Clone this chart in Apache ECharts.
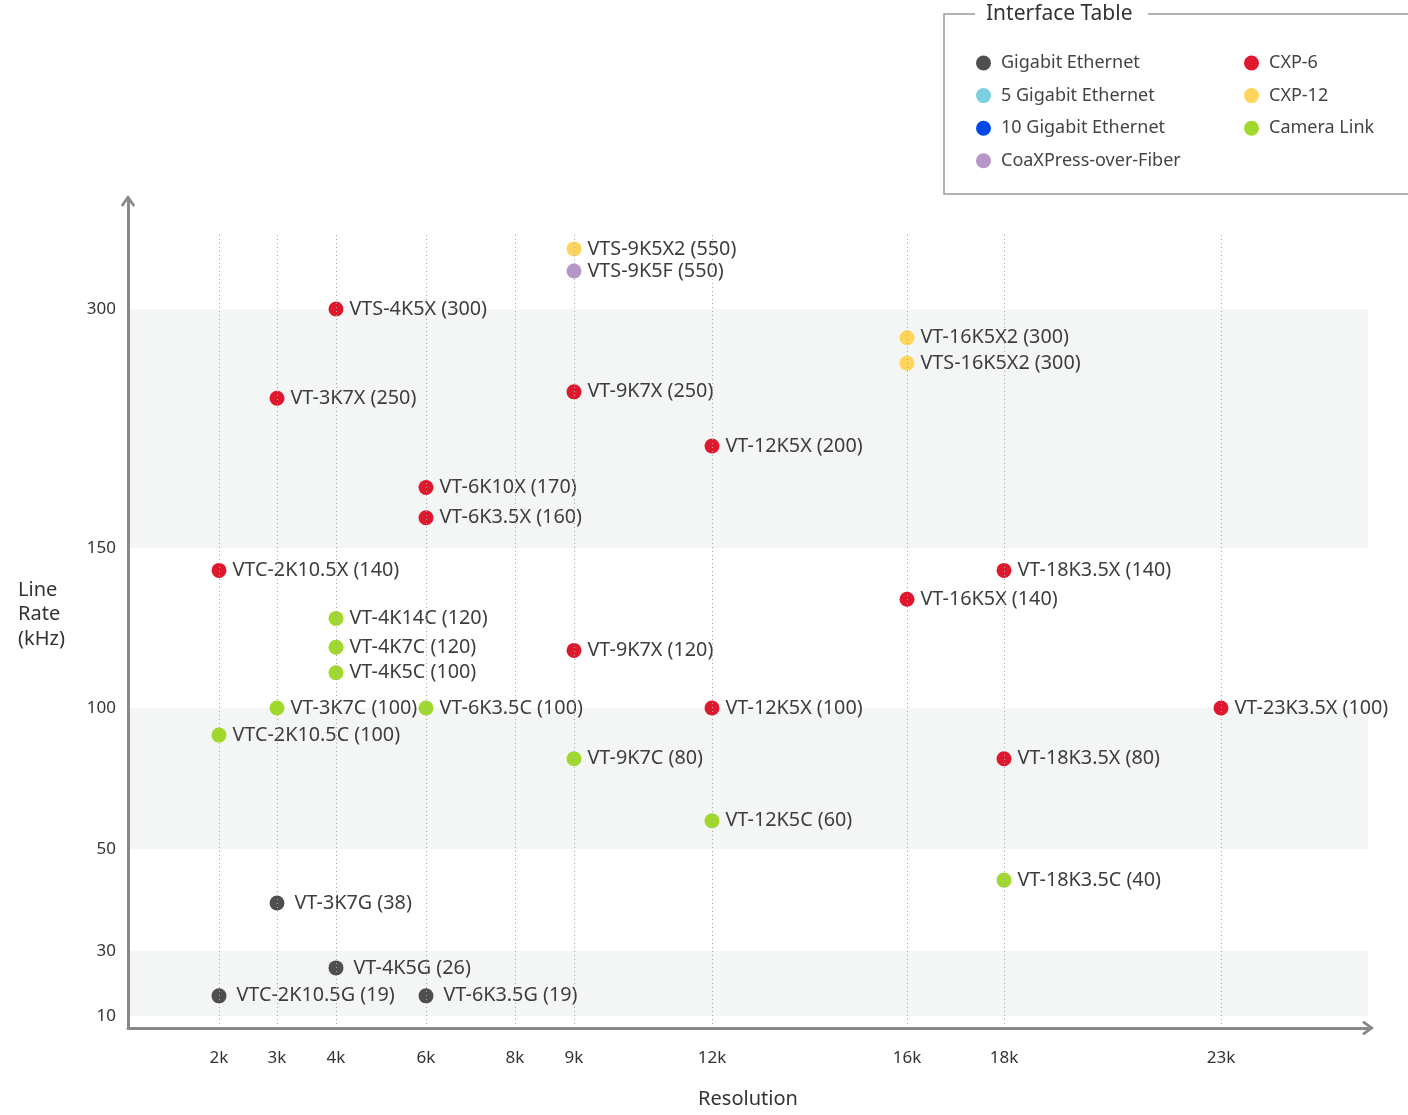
<!DOCTYPE html>
<html>
<head>
<meta charset="utf-8">
<title>Interface Table</title>
<script src="https://cdn.jsdelivr.net/npm/echarts@6.0.0/dist/echarts.min.js"></script>
<style>
  html, body { margin: 0; padding: 0; background: #fff; }
  #chart { width: 1408px; height: 1115px; }
</style>
</head>
<body>
<div id="chart"></div>
<script>
// tick values and their labels
const xTicks = [2, 3, 4, 6, 8, 9, 12, 16, 18, 23];
const xTickLabels = ['2k', '3k', '4k', '6k', '8k', '9k', '12k', '16k', '18k', '23k'];
const yTicks = [10, 30, 50, 100, 150, 300];
const yTickLabels = ['10', '30', '50', '100', '150', '300'];

// the axes are hand spaced, so each stop gets its own spot along the axis (axis units)
const xStops = [2, 3, 4, 6, 8, 9, 12, 16, 18, 23];
const xUnits = [91, 149, 208, 298, 387, 446, 584, 779, 876, 1093];
const yStops = [0, 10, 30, 50, 100, 150, 300, 600];
const yUnits = [0, 12, 77, 179, 320, 480, 719, 792];

// shaded bands of line rate
const bands = [[10, 30], [50, 100], [150, 300]];

// [model, resolution (k), line rate in label (kHz), line rate where it is drawn]
const gigE = [
  ['VT-3K7G', 3, 38, 39.4],
  ['VT-4K5G', 4, 26, 24.8],
  ['VTC-2K10.5G', 2, 19, 16.2],
  ['VT-6K3.5G', 6, 19, 16.2]
];
const gigE5 = [];
const gigE10 = [];
const coFiber = [
  ['VTS-9K5F', 9, 550, 456]
];
const cxp6 = [
  ['VTS-4K5X', 4, 300, 300],
  ['VT-3K7X', 3, 250, 244],
  ['VT-9K7X', 9, 250, 248],
  ['VT-12K5X', 12, 200, 214],
  ['VT-6K10X', 6, 170, 188],
  ['VT-6K3.5X', 6, 160, 169],
  ['VTC-2K10.5X', 2, 140, 143],
  ['VT-18K3.5X', 18, 140, 143],
  ['VT-16K5X', 16, 140, 134],
  ['VT-9K7X', 9, 120, 118],
  ['VT-12K5X', 12, 100, 100],
  ['VT-23K3.5X', 23, 100, 100],
  ['VT-18K3.5X', 18, 80, 82]
];
const cxp12 = [
  ['VTS-9K5X2', 9, 550, 547],
  ['VT-16K5X2', 16, 300, 282],
  ['VTS-16K5X2', 16, 300, 266]
];
const cameraLink = [
  ['VT-4K14C', 4, 120, 128],
  ['VT-4K7C', 4, 120, 119],
  ['VT-4K5C', 4, 100, 111],
  ['VT-3K7C', 3, 100, 100],
  ['VT-6K3.5C', 6, 100, 100],
  ['VTC-2K10.5C', 2, 100, 90.4],
  ['VT-9K7C', 9, 80, 82],
  ['VT-12K5C', 12, 60, 60],
  ['VT-18K3.5C', 18, 40, 43.9]
];

const seriesNames = ['Gigabit Ethernet', '5 Gigabit Ethernet', '10 Gigabit Ethernet', 'CoaXPress-over-Fiber', 'CXP-6', 'CXP-12', 'Camera Link'];
const seriesData = [gigE, gigE5, gigE10, coFiber, cxp6, cxp12, cameraLink];
const seriesColors = ['#4f4f4f', '#7ccfe0', '#0048e8', '#b596c8', '#e0182d', '#fed55a', '#a0d82c'];

const FONT = 'Noto Sans';

function interp(v, from, to) {
  for (let i = 1; i < from.length; i++) {
    if (v <= from[i]) {
      const t = (v - from[i - 1]) / (from[i] - from[i - 1]);
      return to[i - 1] + t * (to[i] - to[i - 1]);
    }
  }
  return to[to.length - 1];
}
const sx = v => interp(v, xStops, xUnits);
const sy = v => interp(v, yStops, yUnits);

function labelFor(v, ticks, labels, scale) {
  const i = ticks.findIndex(t => Math.abs(scale(t) - v) < 0.5);
  return i < 0 ? '' : labels[i];
}

const series = seriesNames.map((name, i) => ({
  name: name,
  type: 'scatter',
  z: 3,
  symbol: 'circle',
  symbolSize: 15,
  itemStyle: { color: seriesColors[i], opacity: 1 },
  emphasis: { disabled: true },
  label: {
    show: true,
    position: 'right',
    distance: i === 0 ? 10 : 6,
    color: '#3d3d3d',
    fontSize: 19.8,
    fontFamily: FONT,
    formatter: p => p.data.model + ' (' + p.data.rate + ')'
  },
  data: seriesData[i].map(d => ({ value: [sx(d[1]), sy(d[3])], model: d[0], rate: d[2] }))
}));

// bands and dotted guides
series.push({
  type: 'scatter',
  z: 1,
  silent: true,
  data: [],
  markArea: {
    silent: true,
    itemStyle: { color: '#f4f6f5' },
    data: bands.map(b => [{ yAxis: sy(b[0]) }, { yAxis: sy(b[1]) }])
  },
  markLine: {
    silent: true,
    symbol: 'none',
    label: { show: false },
    lineStyle: { color: '#a5a5a5', type: [1, 3], width: 1 },
    data: xTicks.map(t => [{ coord: [sx(t), 0] }, { coord: [sx(t), sy(600) + 3] }])
  }
});

const chevron = 'path://M0,70 L50,0 L100,70 L86,84 L50,32 L14,84 Z';
const axisLineStyle = { color: '#888', width: 3 };
const legendCommon = {
  orient: 'vertical',
  icon: 'circle',
  itemWidth: 15,
  itemHeight: 15,
  itemGap: 12.6,
  selectedMode: false,
  textStyle: { fontSize: 18, lineHeight: 20, color: '#444', fontFamily: FONT, padding: [0, 0, 0, 5] }
};

const option = {
  animation: false,
  backgroundColor: '#fff',
  textStyle: { fontFamily: FONT },
  grid: { left: 128, right: 40, top: 201, bottom: 87 },
  legend: [
    Object.assign({ data: seriesNames.slice(0, 4), left: 971, top: 48 }, legendCommon),
    Object.assign({ data: seriesNames.slice(4), left: 1239, top: 48 }, legendCommon)
  ],
  graphic: [
    { type: 'polyline', shape: { points: [[975, 14], [944, 14], [944, 194], [1412, 194]] }, style: { stroke: '#9a9a9a', lineWidth: 1.5, fill: null } },
    { type: 'line', shape: { x1: 1148, y1: 14, x2: 1412, y2: 14 }, style: { stroke: '#9a9a9a', lineWidth: 1.5 } },
    { type: 'text', x: 986, y: 14, style: { text: 'Interface Table', fontSize: 21, fontFamily: FONT, fill: '#333', verticalAlign: 'middle' } }
  ],
  xAxis: {
    type: 'value',
    min: 0,
    max: 1240,
    z: 5,
    name: 'Resolution',
    nameLocation: 'middle',
    nameGap: 71,
    nameTextStyle: { fontSize: 20, color: '#333', verticalAlign: 'middle', fontFamily: FONT },
    axisLine: { lineStyle: axisLineStyle, symbol: ['none', chevron], symbolSize: [17, 12] },
    axisTick: { show: false },
    splitLine: { show: false },
    axisLabel: {
      customValues: xTicks.map(sx),
      formatter: v => labelFor(v, xTicks, xTickLabels, sx),
      margin: 22,
      fontSize: 17,
      color: '#333',
      fontFamily: FONT
    }
  },
  yAxis: {
    type: 'value',
    min: 0,
    max: 827,
    z: 5,
    name: 'Line\nRate\n(kHz)',
    nameLocation: 'middle',
    nameRotate: 0,
    nameGap: 110,
    nameTextStyle: { fontSize: 20, lineHeight: 24.5, color: '#333', align: 'left', verticalAlign: 'middle', fontFamily: FONT },
    axisLine: { lineStyle: axisLineStyle, symbol: ['none', chevron], symbolSize: [17, 12] },
    axisTick: { show: false },
    splitLine: { show: false },
    axisLabel: {
      customValues: yTicks.map(sy),
      formatter: v => labelFor(v, yTicks, yTickLabels, sy),
      margin: 12,
      fontSize: 17,
      color: '#333',
      fontFamily: FONT
    }
  },
  series: series
};

const myChart = echarts.init(document.getElementById('chart'));
myChart.setOption(option);
</script>
</body>
</html>
